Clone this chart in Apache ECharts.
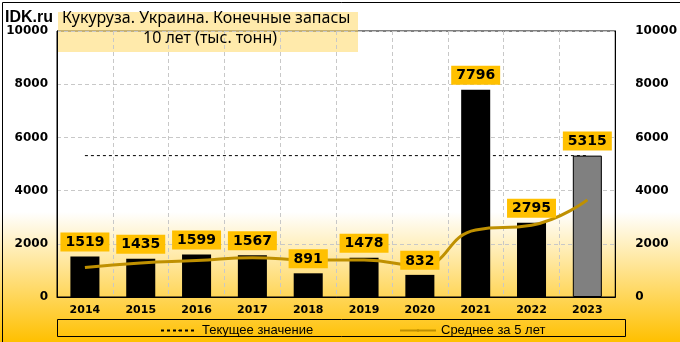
<!DOCTYPE html>
<html><head><meta charset="utf-8">
<script src="https://cdn.jsdelivr.net/npm/echarts@6/dist/echarts.min.js"></script>
<style>html,body{margin:0;padding:0;}#c{width:680px;height:342px;}</style>
</head><body><div id="c"></div>
<script>
const categories = ['2014','2015','2016','2017','2018','2019','2020','2021','2022','2023'];
const stocks = [1519,1435,1599,1567,891,1478,832,7796,2795,5315];
const avg5 = [1110,1280,1370,1480,1390,1390,1170,2520,2700,3650];
const currentValue = 5315;

const current = categories.map(() => currentValue);
const chart = echarts.init(document.getElementById('c'), null, {renderer:'canvas'});
const font = 'DejaVu Sans, Verdana, sans-serif';
chart.setOption({
  animation:false,
  backgroundColor:{type:'linear',x:0,y:0,x2:0,y2:1,colorStops:[{offset:0,color:'#ffffff'},{offset:0.62,color:'#ffffff'},{offset:1,color:'#ffc000'}]},
  grid:{left:57,right:57,top:31,bottom:45,show:true,borderColor:'#000',borderWidth:1,backgroundColor:'transparent'},
  xAxis:{type:'category',data:categories,
    axisLine:{lineStyle:{color:'#000',width:1}},axisTick:{show:false},
    axisLabel:{color:'#000',fontWeight:'bold',fontSize:11,fontFamily:font,margin:8},
    splitLine:{show:true,lineStyle:{color:'#c8c8c8',type:[4,3]}}},
  yAxis:[
    {type:'value',min:0,max:10000,interval:2000,
     axisLine:{show:true,lineStyle:{color:'#000'}},axisTick:{show:false},
     axisLabel:{color:'#000',fontWeight:'bold',fontSize:12,fontFamily:font,margin:9,formatter:v=>String(v)},
     splitLine:{show:true,lineStyle:{color:'#c8c8c8',type:[4,3]}}},
    {type:'value',min:0,max:10000,interval:2000,position:'right',
     axisLine:{show:true,lineStyle:{color:'#000'}},axisTick:{show:false},
     axisLabel:{color:'#000',fontWeight:'bold',fontSize:12,fontFamily:font,margin:20,formatter:v=>String(v)},
     splitLine:{show:false}}
  ],
  legend:[
    {data:[{name:'Текущее значение'}],left:155,top:319,itemWidth:36,itemHeight:2,
     textStyle:{color:'#000',fontSize:13,fontFamily:'"Liberation Sans", Arial, sans-serif'},itemGap:5},
    {data:[{name:'Среднее за 5 лет'}],left:394,top:319,itemWidth:36,itemHeight:3,
     textStyle:{color:'#000',fontSize:13,fontFamily:'"Liberation Sans", Arial, sans-serif'},itemGap:5}
  ],
  graphic:[
    {type:'rect',left:0,top:0,shape:{x:0.5,y:0.5,width:679,height:341},style:{fill:'none',stroke:'#000',lineWidth:1},z:100},
    {type:'rect',shape:{x:57.5,y:319.5,width:568,height:17},style:{fill:'none',stroke:'#000',lineWidth:1},z:0},
    {type:'rect',shape:{x:58,y:12,width:300,height:40},style:{fill:'rgba(255,217,102,0.55)'},z:0},
    {type:'text',left:5,top:10,style:{text:'IDK.ru',font:'bold 16px "Liberation Sans", Arial, sans-serif',fill:'#000'},z:10},
    {type:'text',left:62,top:10,style:{text:'Кукуруза. Украина. Конечные запасы',font:'16px "Noto Sans", sans-serif',fill:'#000'},z:10},
    {type:'text',left:143,top:30,style:{text:'10 лет (тыс. тонн)',font:'16px "Noto Sans", sans-serif',fill:'#000'},z:10}
  ],
  series:[
    {name:'Текущее значение',type:'line',data:current,symbol:'none',z:1,
     lineStyle:{color:'#000',width:1,type:[3,3]},itemStyle:{color:'#000'}},
    {name:'Запасы',type:'bar',data:stocks.map((v,i)=>({value:v,itemStyle: i===9?{color:'#808080',borderColor:'#000',borderWidth:1}:{color:'#000'}})),
     barWidth:'52%',z:2},
    {name:'Среднее за 5 лет',type:'line',data:avg5,smooth:true,symbol:'none',z:3,
     lineStyle:{color:'#bf9000',width:3},itemStyle:{color:'#bf9000'}},
    {name:'labels',type:'scatter',data:stocks,symbolSize:0,z:10,silent:true,
     itemStyle:{opacity:1,color:'#ffc000'},
     label:{show:true,position:'top',distance:5,backgroundColor:'#ffc000',padding:[3,5,2,5],
       color:'#000',fontWeight:'bold',fontSize:14,fontFamily:font,opacity:1}}
  ]
});
</script></body></html>
